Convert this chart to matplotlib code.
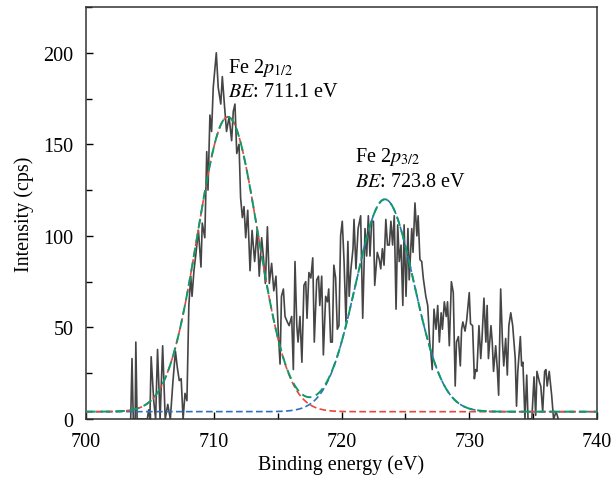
import matplotlib
matplotlib.use('Agg')
import matplotlib.pyplot as plt
from matplotlib.ticker import MultipleLocator
import numpy as np

energy = [703.50, 703.60, 703.70, 703.85, 703.90, 704.00, 704.20, 704.50, 704.80, 704.90,
          705.00, 705.10, 705.30, 705.45, 705.60, 705.80, 706.00, 706.20, 706.40, 706.60,
          706.80, 707.00, 707.15, 707.30, 707.45, 707.60, 707.75, 707.90, 708.05, 708.20,
          708.30, 708.45, 708.60, 708.80, 709.00, 709.10, 709.30, 709.45, 709.55, 709.70,
          709.83, 709.96, 710.20, 710.35, 710.55, 710.67, 710.83, 711.00, 711.20, 711.40,
          711.53, 711.66, 711.80, 711.98, 712.10, 712.24, 712.37, 712.50, 712.66, 712.84,
          713.00, 713.20, 713.40, 713.56, 713.75, 713.88, 714.04, 714.20, 714.35, 714.53,
          714.70, 714.87, 715.05, 715.19, 715.30, 715.45, 715.58, 715.76, 715.90, 716.10,
          716.23, 716.36, 716.50, 716.60, 716.75, 716.90, 717.06, 717.20, 717.30, 717.45,
          717.60, 717.75, 717.87, 718.06, 718.20, 718.30, 718.45, 718.58, 718.76, 718.90,
          719.00, 719.15, 719.28, 719.40, 719.54, 719.67, 719.80, 719.93, 720.06, 720.20,
          720.35, 720.50, 720.60, 720.74, 720.90, 720.98, 721.13, 721.30, 721.50, 721.66,
          721.84, 721.97, 722.10, 722.23, 722.36, 722.50, 722.60, 722.80, 722.96, 723.07,
          723.20, 723.33, 723.47, 723.60, 723.74, 723.87, 724.00, 724.13, 724.27, 724.40,
          724.52, 724.66, 724.80, 724.90, 725.05, 725.20, 725.30, 725.50, 725.60, 725.75,
          725.90, 726.00, 726.14, 726.28, 726.40, 726.60, 726.75, 726.90, 727.00, 727.10,
          727.24, 727.40, 727.53, 727.66, 727.80, 727.90, 728.05, 728.20, 728.30, 728.44,
          728.60, 728.75, 728.90, 729.00, 729.15, 729.30, 729.40, 729.50, 729.67, 729.80,
          730.00, 730.10, 730.26, 730.40, 730.50, 730.60, 730.76, 730.90, 731.00, 731.15,
          731.30, 731.40, 731.50, 731.70, 731.80, 731.90, 732.07, 732.20, 732.30, 732.46,
          732.60, 732.70, 732.85, 732.98, 733.10, 733.25, 733.40, 733.60, 733.70, 733.80,
          734.00, 734.10, 734.20, 734.36, 734.50, 734.60, 734.90, 735.07, 735.20, 735.30,
          735.50, 735.60, 735.75, 735.90, 736.00, 736.10, 736.26, 736.45, 736.60, 736.80,
          736.97]
counts = [0, 33, 0, 0, 42, 0, 0, 0, 0, 5,
          0, 34, 10, 0, 38, 0, 40, 0, 8, 0,
          20, 37, 28, 21, 22, 0, 14, 10, 62, 78,
          67, 81, 90, 103, 83, 107, 99, 146, 125, 166,
          157, 181, 200, 181, 172, 187, 172, 157, 165, 152,
          168, 172, 145, 150, 121, 110, 116, 99, 114, 81,
          103, 86, 103, 78, 99, 89, 74, 105, 74, 85,
          70, 78, 48, 30, 67, 71, 56, 53, 51, 56,
          27, 86, 51, 42, 56, 31, 73, 75, 55, 80,
          77, 88, 42, 76, 78, 62, 78, 35, 67, 64,
          71, 42, 42, 84, 77, 49, 51, 100, 108, 86,
          53, 97, 67, 82, 93, 109, 82, 104, 111, 55,
          104, 89, 111, 89, 108, 108, 73, 91, 87, 82,
          93, 84, 109, 95, 95, 108, 95, 111, 60, 106,
          86, 95, 62, 106, 67, 104, 76, 104, 91, 118,
          100, 111, 87, 86, 77, 67, 62, 42, 36, 27,
          60, 49, 62, 42, 58, 49, 64, 56, 64, 40,
          75, 69, 18, 42, 45, 29, 49, 53, 48, 54,
          69, 52, 51, 22, 27, 26, 51, 33, 44, 66,
          42, 62, 33, 51, 42, 26, 40, 27, 13, 71,
          42, 29, 44, 24, 51, 58, 51, 33, 7, 26,
          45, 29, 31, 0, 24, 0, 0, 23, 2, 26,
          20, 18, 4, 26, 27, 18, 26, 13, 0, 4,
          0]

# Gaussian fit parameters
baseline = 4.0
peak_centers = [711.1, 723.4]
peak_heights = [161.0, 116.0]
peak_sigmas = [2.35, 2.27]
labels = ['Fe 2$p_{1/2}$', 'Fe 2$p_{3/2}$']
be_labels = ['$BE$: 711.1 eV', '$BE$: 723.8 eV']

plt.rcParams['font.family'] = ['Liberation Serif', 'DejaVu Serif']
plt.rcParams['mathtext.fontset'] = 'stix'

fig = plt.figure(figsize=(6.13, 4.81), dpi=100)
ax = fig.add_axes([0.1403, 0.1268, 0.8336, 0.8566])

xf = np.linspace(700, 740, 801)
comps = [h * np.exp(-(xf - c) ** 2 / (2 * s ** 2))
         for c, h, s in zip(peak_centers, peak_heights, peak_sigmas)]

ax.plot(energy, counts, color='#454545', lw=1.2, zorder=2)
ax.plot(xf, baseline + comps[1], color='#2f6fc0', lw=1.2, ls=(0, (4, 2)), zorder=3)
ax.plot(xf, baseline + comps[0], color='#e8483c', lw=1.2, ls=(0, (4, 2)), zorder=3)
ax.plot(xf, baseline + comps[0] + comps[1], color='#0f9a6a', lw=1.4,
        ls=(0, (5, 2.5)), zorder=4)

ax.text(711.1, 189.5, labels[0], fontsize=14.5, va='baseline', ha='left')
ax.text(711.1, 176.5, be_labels[0], fontsize=14.5, va='baseline', ha='left')
ax.text(721.05, 141, labels[1], fontsize=14.5, va='baseline', ha='left')
ax.text(721.05, 127, be_labels[1], fontsize=14.5, va='baseline', ha='left')

ax.set_xlim(700, 740)
ax.set_ylim(0, 225)
ax.xaxis.set_major_locator(MultipleLocator(10))
ax.xaxis.set_minor_locator(MultipleLocator(5))
ax.yaxis.set_major_locator(MultipleLocator(50))
ax.yaxis.set_minor_locator(MultipleLocator(25))
ax.tick_params(which='both', direction='in', labelsize=14.5, top=False, right=False)
ax.tick_params(which='major', length=5, width=1)
ax.tick_params(which='minor', length=4, width=1)
ax.tick_params(axis='x', pad=9)
ax.tick_params(axis='y', pad=9)
for sp in ax.spines.values():
    sp.set_linewidth(1.1)
    sp.set_color('#333333')

ax.set_xlabel('Binding energy (eV)', fontsize=14.5, labelpad=3)
ax.set_ylabel('Intensity (cps)', fontsize=14.5, labelpad=7)

fig.savefig('out.png', dpi=100)
